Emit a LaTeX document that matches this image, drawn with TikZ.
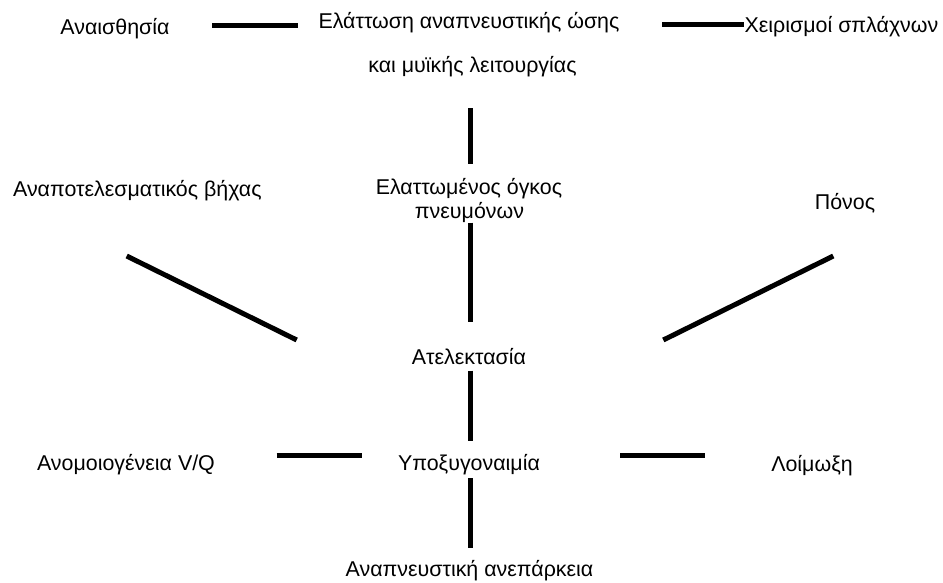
\documentclass[tikz,border=0pt]{standalone}
\usepackage{fontspec}
\setmainfont{Liberation Sans}
\begin{document}
\begin{tikzpicture}[x=1pt,y=-1pt,
  lbl/.style={anchor=base,inner sep=0pt,font=\fontsize{21.4}{25}\selectfont},
  conn/.style={line width=5pt,black}]
\useasboundingbox (0,0) rectangle (943,583);
% texts
\node[lbl] (anaisth) at (115,34.3) {Αναισθησία};
\node[lbl] (titleA) at (469,28.5) {Ελάττωση αναπνευστικής ώσης};
\node[lbl] (titleB) at (472.5,72.5) {και μυϊκής λειτουργίας};
\node[lbl] (xeir) at (841.5,32.3) {Χειρισμοί σπλάχνων};
\node[lbl] (vixas) at (137.4,196.7) {Αναποτελεσματικός βήχας};
\node[lbl] (ogkosA) at (469,195) {Ελαττωμένος όγκος};
\node[lbl] (ogkosB) at (469.5,218.3) {πνευμόνων};
\node[lbl] (ponos) at (845,209.3) {Πόνος};
\node[lbl] (atel) at (469,364) {Ατελεκτασία};
\node[lbl] (anom) at (126,470) {Ανομοιογένεια V/Q};
\node[lbl] (ypox) at (469,470) {Υποξυγοναιμία};
\node[lbl] (loim) at (812,471) {Λοίμωξη};
\node[lbl] (anep) at (469.5,576.7) {Αναπνευστική ανεπάρκεια};
% connector ends
\coordinate (c1a) at (212,25.5); \coordinate (c1b) at (298,25.5);
\coordinate (c2a) at (662,25); \coordinate (c2b) at (744,25);
\coordinate (c3a) at (470,108.5); \coordinate (c3b) at (470,164);
\coordinate (c4a) at (470,222.7); \coordinate (c4b) at (470,321.7);
\coordinate (c5a) at (126.7,256); \coordinate (c5b) at (296.7,340);
\coordinate (c6a) at (663.3,340); \coordinate (c6b) at (833.3,256);
\coordinate (c7a) at (470,370.7); \coordinate (c7b) at (470,441);
\coordinate (c8a) at (276.7,455); \coordinate (c8b) at (361.7,455);
\coordinate (c9a) at (620,455.5); \coordinate (c9b) at (705,455.5);
\coordinate (c10a) at (470,478); \coordinate (c10b) at (470,548);
% connectors
\draw[conn] (c1a) -- (c1b);
\draw[conn] (c2a) -- (c2b);
\draw[conn] (c3a) -- (c3b);
\draw[conn] (c4a) -- (c4b);
\draw[conn] (c5a) -- (c5b);
\draw[conn] (c6a) -- (c6b);
\draw[conn] (c7a) -- (c7b);
\draw[conn] (c8a) -- (c8b);
\draw[conn] (c9a) -- (c9b);
\draw[conn] (c10a) -- (c10b);
\end{tikzpicture}
\end{document}
